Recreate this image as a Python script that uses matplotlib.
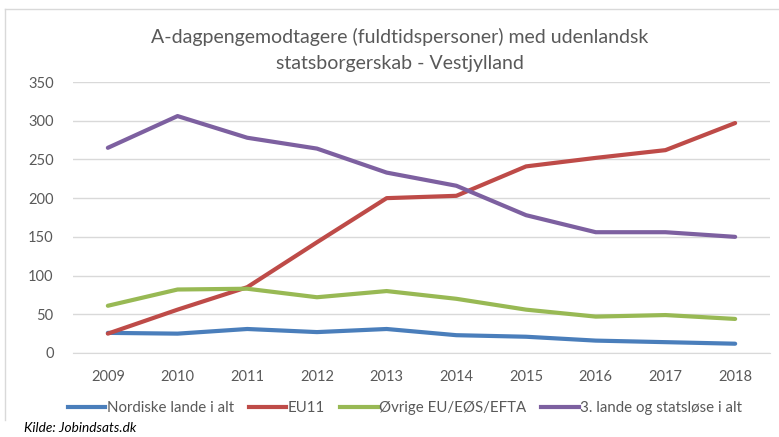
import matplotlib
matplotlib.use("Agg")
import matplotlib.pyplot as plt
from matplotlib.lines import Line2D

plt.rcParams['font.family'] = ['Lato', 'DejaVu Sans']

years = [2009, 2010, 2011, 2012, 2013, 2014, 2015, 2016, 2017, 2018]
nordiske = [26, 25, 31, 27, 31, 23, 21, 16, 14, 12]
eu11 = [25, 56, 85, 143, 200, 203, 241, 252, 262, 297]
oevrige = [61, 82, 83, 72, 80, 70, 56, 47, 49, 44]
tredje = [265, 306, 278, 264, 233, 216, 178, 156, 156, 150]

names = ["Nordiske lande i alt", "EU11", "Øvrige EU/EØS/EFTA", "3. lande og statsløse i alt"]
colors = ["#4A7EBB", "#BE4B48", "#98B954", "#7D60A0"]
grey = "#595959"

fig = plt.figure(figsize=(7.79, 4.37), dpi=100)
ax = fig.add_axes([73/779, 1-353/437, (770-73)/779, (353-82)/437])

for vals, name, col in zip([nordiske, eu11, oevrige, tredje], names, colors):
    ax.plot(years, vals, color=col, lw=3, solid_capstyle='round', label=name)

ax.set_xlim(2008.5, 2018.5)
ax.set_ylim(0, 350)
ax.set_yticks(range(0, 351, 50))
ax.set_xticks(years)
ax.grid(axis='y', color="#D9D9D9", lw=1)
ax.set_axisbelow(True)
for s in ['top', 'right', 'left']:
    ax.spines[s].set_visible(False)
ax.spines['bottom'].set_color("#D9D9D9")
ax.tick_params(length=0, labelsize=10.5, labelcolor=grey)
ax.tick_params(axis='x', pad=12)
ax.tick_params(axis='y', pad=14)

fig.text(0.513, 1-37/437, "A-dagpengemodtagere (fuldtidspersoner) med udenlandsk",
         ha='center', va='center', fontsize=14, color=grey)
fig.text(0.513, 1-63/437, "statsborgerskab - Vestjylland",
         ha='center', va='center', fontsize=14, color=grey)

handles = [Line2D([], [], color=c, lw=3) for c in colors]
fig.legend(handles, names, ncol=4, loc='center', bbox_to_anchor=(405/779, 1-408/437),
           frameon=False, fontsize=10.8, labelcolor=grey, handlelength=2.5,
           handletextpad=0.1, columnspacing=1.0)

fig.text(24/779, 1-428/437, "Kilde: Jobindsats.dk", ha='left', va='center',
         fontsize=9.8, style='italic', color='black')

# chart frame
fig.add_artist(Line2D([5/779, 1], [1-9/437, 1-9/437], color="#D9D9D9", lw=1))
fig.add_artist(Line2D([5/779, 5/779], [1-9/437, 1-420/437], color="#D9D9D9", lw=1))

fig.savefig("out.png", dpi=100)
